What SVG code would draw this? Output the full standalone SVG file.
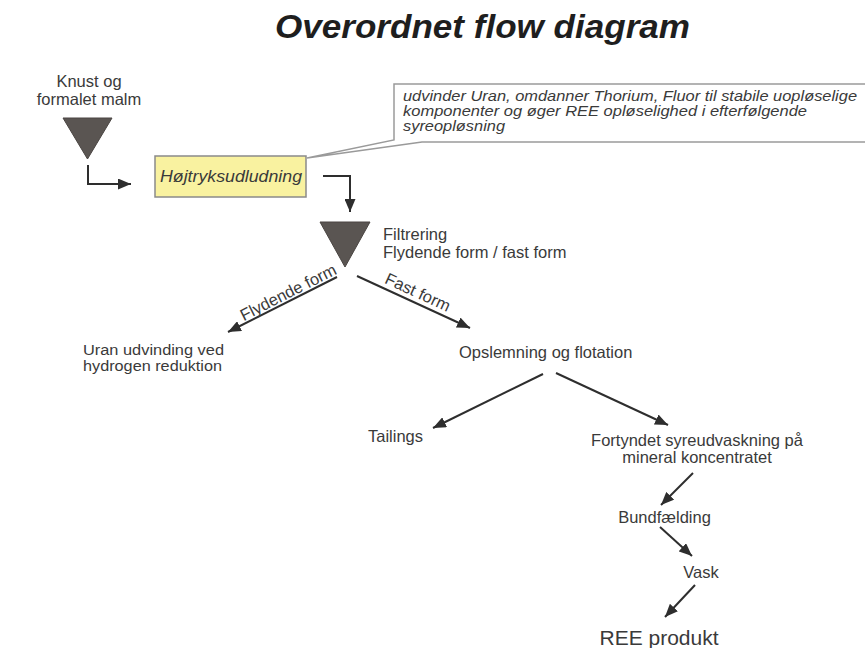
<svg xmlns="http://www.w3.org/2000/svg" width="865" height="648" viewBox="0 0 865 648">
<style>
  .t { font-family: "Liberation Sans", Arial, sans-serif; font-size: 16.5px; fill: #3a3a3a; }
  .s { font-size: 14px; }
  .it { font-style: italic; }
  .title { font-family: "Liberation Sans", Arial, sans-serif; font-size: 33px; font-weight: bold; font-style: italic; fill: #1e1e1e; }
  .tri { fill: #5a5552; stroke: #4a4542; stroke-width: 1; }
  .conn { fill: none; stroke: #2e2e2e; stroke-width: 2; marker-end: url(#ah); }
</style>
<defs>
  <marker id="ah" markerUnits="userSpaceOnUse" markerWidth="14" markerHeight="11" refX="13" refY="5.5" orient="auto">
    <path d="M0,0 L13,5.5 L0,11 Z" fill="#2e2e2e"/>
  </marker>
</defs>
<rect width="865" height="648" fill="#ffffff"/>
<text class="title" x="275" y="38" textLength="415" lengthAdjust="spacingAndGlyphs">Overordnet flow diagram</text>

<g id="input">
  <text class="t" x="89" y="87" text-anchor="middle">Knust og</text>
  <text class="t" x="89" y="105" text-anchor="middle">formalet malm</text>
  <polygon class="tri" points="63,118 112,118 87.5,159"/>
</g>

<g id="hojtryk">
  <rect x="155" y="156" width="151" height="41" fill="#f9f2a0" stroke="#8a8a8a" stroke-width="1.5"/>
  <text class="t it" x="160" y="182" textLength="142" lengthAdjust="spacingAndGlyphs">Højtryksudludning</text>
</g>

<g id="callout">
  <path d="M422,142 L870,142 L870,84 L394,84 L394,140 L307,158 Z" fill="#ffffff" stroke="#9a9a9a" stroke-width="1.5"/>
  <text class="t s it" x="403" y="101" textLength="454" lengthAdjust="spacingAndGlyphs">udvinder Uran, omdanner Thorium, Fluor til stabile uopløselige</text>
  <text class="t s it" x="403" y="116" textLength="404" lengthAdjust="spacingAndGlyphs">komponenter og øger REE opløselighed i efterfølgende</text>
  <text class="t s it" x="403" y="131" textLength="102" lengthAdjust="spacingAndGlyphs">syreopløsning</text>
</g>

<g id="filtrering">
  <polygon class="tri" points="320,222 370,222 345,267"/>
  <text class="t" x="383" y="240">Filtrering</text>
  <text class="t" x="383" y="258">Flydende form / fast form</text>
</g>

<g id="uran">
  <text class="t s" x="83" y="355" textLength="141" lengthAdjust="spacingAndGlyphs">Uran udvinding ved</text>
  <text class="t s" x="83" y="371" textLength="139" lengthAdjust="spacingAndGlyphs">hydrogen reduktion</text>
</g>

<g id="opslemning">
  <text class="t" x="459" y="358">Opslemning og flotation</text>
</g>

<g id="tailings">
  <text class="t" x="368" y="442">Tailings</text>
</g>

<g id="fortyndet">
  <text class="t" x="697" y="446" text-anchor="middle">Fortyndet syreudvaskning på</text>
  <text class="t" x="697" y="463" text-anchor="middle">mineral koncentratet</text>
</g>

<g id="bundfaelding">
  <text class="t" x="664.5" y="523" text-anchor="middle">Bundfælding</text>
</g>

<g id="vask">
  <text class="t" x="701" y="578" text-anchor="middle">Vask</text>
</g>

<g id="ree">
  <text class="t" x="659" y="645" text-anchor="middle" style="font-size:21px">REE produkt</text>
</g>

<g id="connectors">
  <path class="conn" d="M88,165 V184 H131"/>
  <path class="conn" d="M323,176 H350 V212"/>
  <path class="conn" d="M337,277 L228,332"/>
  <path class="conn" d="M357,276 L470,328"/>
  <path class="conn" d="M543,374 L433,428"/>
  <path class="conn" d="M556,373 L668,425"/>
  <path class="conn" d="M693,473 L661,505"/>
  <path class="conn" d="M660,527 L692,556"/>
  <path class="conn" d="M695,585 L665,617"/>
  <text class="t" transform="translate(290.7,297.4) rotate(-26.8)" text-anchor="middle">Flydende form</text>
  <text class="t" transform="translate(415.5,297.4) rotate(24.7)" text-anchor="middle">Fast form</text>
</g>
</svg>
